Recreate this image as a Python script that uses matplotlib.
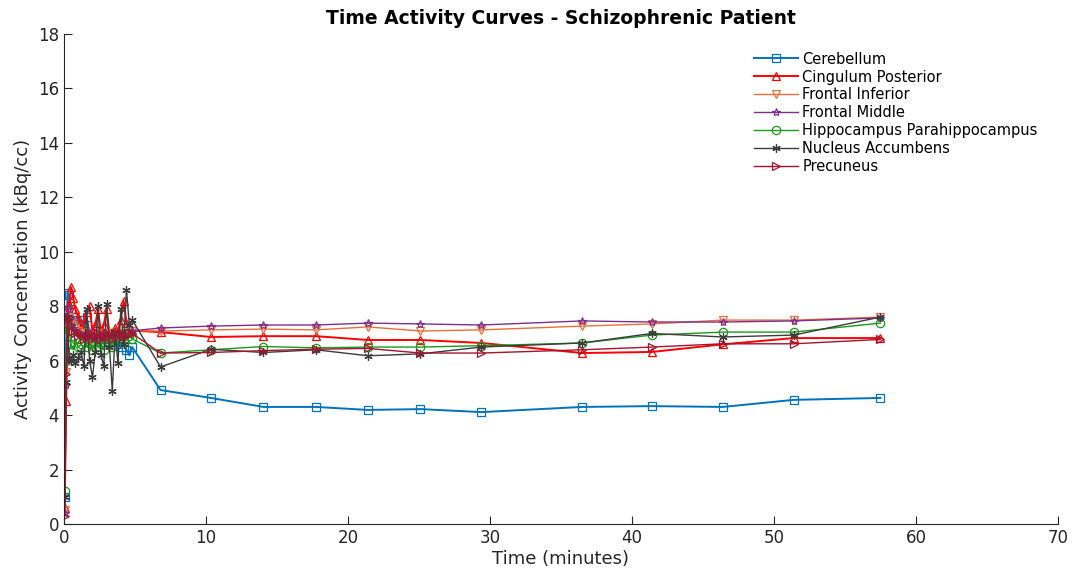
import numpy as np
import matplotlib.pyplot as plt

# frame mid-times (minutes)
t_early = [0.05, 0.15, 0.25, 0.35, 0.5, 0.65, 0.8, 1.0, 1.2, 1.4, 1.6, 1.8, 2.0,
           2.2, 2.4, 2.6, 2.8, 3.0, 3.2, 3.4, 3.6, 3.8, 4.0, 4.2, 4.4, 4.6, 4.8]
t_late = [6.8, 10.35, 14.05, 17.75, 21.4, 25.1, 29.4, 36.5, 41.4, 46.4, 51.4, 57.5]
time = t_early + t_late

# regional activity (kBq/cc)
cerebellum = [1.0, 6.6, 8.5, 8.4, 7.9, 7.6, 7.5, 7.3, 7.5, 7.2, 7.6, 7.0, 6.9,
              7.1, 6.8, 7.0, 6.9, 6.8, 7.0, 6.7, 6.8, 6.6, 6.5, 6.7, 6.4, 6.2, 6.5,
              4.92, 4.63, 4.3, 4.3, 4.19, 4.22, 4.11, 4.3, 4.33, 4.3, 4.56, 4.63]
cingulum_post = [0.6, 4.5, 7.3, 8.1, 8.7, 8.3, 7.9, 7.6, 7.2, 7.4, 7.8, 8.0, 7.1,
                 7.3, 7.9, 7.0, 7.3, 7.9, 7.0, 6.9, 7.2, 7.1, 7.5, 8.2, 7.4, 7.0, 7.1,
                 7.05, 6.87, 6.9, 6.9, 6.76, 6.76, 6.65, 6.28, 6.32, 6.6, 6.83, 6.83]
frontal_inf = [0.5, 5.6, 7.8, 7.6, 7.4, 7.3, 7.2, 7.1, 7.0, 6.9, 7.0, 6.9, 6.8,
               6.9, 7.0, 6.9, 6.8, 7.0, 6.9, 6.8, 6.9, 7.0, 6.9, 6.8, 6.9, 7.0, 7.1,
               7.09, 7.13, 7.16, 7.13, 7.24, 7.09, 7.13, 7.27, 7.35, 7.49, 7.49, 7.6]
frontal_mid = [0.4, 5.1, 7.9, 7.5, 7.3, 7.2, 7.1, 7.0, 6.9, 6.9, 6.8, 7.0, 6.9,
               6.8, 6.9, 6.8, 7.0, 6.9, 6.8, 6.9, 6.9, 7.0, 6.9, 7.0, 6.9, 7.0, 7.1,
               7.2, 7.27, 7.31, 7.31, 7.38, 7.35, 7.31, 7.46, 7.42, 7.42, 7.46, 7.57]
hippocampus = [1.2, 6.0, 7.3, 7.1, 6.6, 6.4, 6.8, 6.5, 6.6, 6.7, 6.5, 6.6, 6.4,
               6.7, 6.5, 6.6, 6.4, 6.7, 6.6, 6.5, 6.8, 6.9, 6.8, 6.7, 7.0, 6.9, 6.8,
               6.28, 6.4, 6.52, 6.47, 6.5, 6.5, 6.55, 6.65, 6.94, 7.05, 7.05, 7.38]
nucleus_acc = [1.0, 5.2, 7.6, 6.1, 6.0, 6.2, 5.9, 6.1, 6.3, 5.8, 7.9, 6.0, 5.4,
               6.3, 8.0, 6.2, 5.8, 8.1, 6.5, 4.9, 7.0, 5.9, 7.9, 6.6, 8.6, 7.3, 7.5,
               5.77, 6.42, 6.3, 6.4, 6.18, 6.25, 6.5, 6.65, 7.0, 6.87, 6.94, 7.6]
precuneus = [0.3, 5.5, 7.5, 7.6, 7.3, 7.1, 7.0, 6.9, 7.0, 6.8, 6.9, 7.0, 6.8,
             6.9, 7.0, 6.8, 6.9, 7.0, 6.9, 6.8, 7.0, 6.9, 7.0, 6.9, 6.9, 7.0, 7.0,
             6.28, 6.3, 6.37, 6.42, 6.45, 6.28, 6.28, 6.4, 6.5, 6.62, 6.62, 6.78]

regions = ["Cerebellum", "Cingulum Posterior", "Frontal Inferior", "Frontal Middle",
           "Hippocampus Parahippocampus", "Nucleus Accumbens", "Precuneus"]
curves = [cerebellum, cingulum_post, frontal_inf, frontal_mid,
          hippocampus, nucleus_acc, precuneus]

colors = ['#0072BD', '#FF0000', '#E8703A', '#7E2F8E', '#1A9A1A', '#3C3C3C', '#A2142F']
markers = ['s', '^', 'v', '*', 'o', (6, 2, 0), '>']
widths = [1.4, 1.4, 1.0, 1.0, 1.0, 1.0, 1.0]

plt.rcParams['font.family'] = 'DejaVu Sans'
fig = plt.figure(figsize=(10.74, 5.77), dpi=100)
ax = fig.add_axes([0.0596, 0.0919, 0.9254, 0.8491])

for name, y, c, m, w in zip(regions, curves, colors, markers, widths):
    ax.plot(time, y, color=c, marker=m, markersize=6, markerfacecolor='none',
            markeredgecolor=c, markeredgewidth=0.9, linewidth=w, label=name)

ax.set_xlim(0, 70)
ax.set_ylim(0, 18)
ax.set_xticks(np.arange(0, 71, 10))
ax.set_yticks(np.arange(0, 19, 2))
ax.spines["top"].set_visible(False)
ax.spines["right"].set_visible(False)
for s in ["left", "bottom"]:
    ax.spines[s].set_color('#262626')
    ax.spines[s].set_linewidth(0.8)
ax.tick_params(direction='in', length=6, labelsize=12, colors='#262626')
ax.set_xlabel("Time (minutes)", fontsize=13, color='#262626', labelpad=2)
ax.set_ylabel("Activity Concentration (kBq/cc)", fontsize=13, color='#262626')
ax.set_title("Time Activity Curves - Schizophrenic Patient", fontsize=13.5,
             fontweight='bold', pad=7)
ax.legend(loc='upper right', bbox_to_anchor=(0.99, 0.985), frameon=False,
          fontsize=10.5, handlelength=3.0, handletextpad=0.3, labelspacing=0.2,
          borderaxespad=0.3)

plt.savefig("out.png", dpi=100)
